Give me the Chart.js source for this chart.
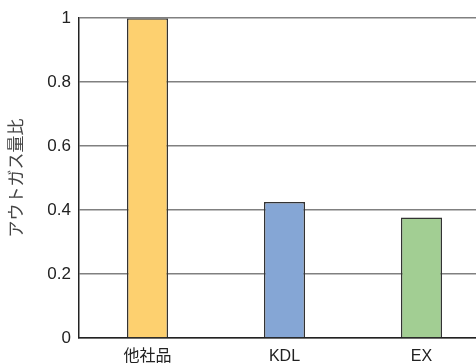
<!DOCTYPE html>
<html>
<head>
<meta charset="utf-8">
<script src="https://cdn.jsdelivr.net/npm/chart.js@4/dist/chart.umd.min.js"></script>
<style>
  html, body { margin: 0; padding: 0; background: #fff; overflow: hidden; }
  #wrap { width: 500px; height: 363px; }
</style>
</head>
<body>
<div id="wrap"><canvas id="chart" width="500" height="363"></canvas></div>
<script>
const categories = ["他社品", "KDL", "EX"];
const outgasRatio = [1.0, 0.425, 0.377];
const barColors = ["#fdd06f", "#85a6d5", "#a2ce93"];
const yTicks = [0, 0.2, 0.4, 0.6, 0.8, 1];
const yTitle = "アウトガス量比";

const FONT = "'Liberation Sans', 'Noto Sans CJK JP', sans-serif";

new Chart(document.getElementById("chart"), {
    type: "bar",
    data: {
        labels: categories,
        datasets: [{
            data: outgasRatio,
            backgroundColor: barColors,
            borderColor: "#333",
            borderWidth: 1.5,
            barPercentage: 0.3,
            categoryPercentage: 1
        }]
    },
    options: {
        responsive: false,
        animation: false,
        layout: { padding: { top: 18, right: 10, left: 0, bottom: 0 } },
        plugins: { legend: { display: false }, tooltip: { enabled: false } },
        scales: {
            x: {
                grid: { display: false },
                border: { color: "#222", width: 1.5 },
                ticks: { color: "#222", font: { family: FONT, size: 16 }, padding: 1 },
                afterFit: s => { s.height = 25; }
            },
            y: {
                min: 0,
                max: 1,
                afterBuildTicks: s => { s.ticks = yTicks.map(v => ({ value: v })); },
                grid: { color: "#808080", lineWidth: 1.5, drawTicks: false },
                border: { color: "#222", width: 1.5 },
                ticks: {
                    color: "#222",
                    font: { family: FONT, size: 17 },
                    padding: 8,
                    callback: v => String(v)
                },
                title: {
                    display: true,
                    text: yTitle,
                    color: "#444",
                    font: { family: FONT, size: 17 },
                    padding: { top: 7, bottom: 0 }
                },
                afterFit: s => { s.width = 79; }
            }
        }
    }
});
</script>
</body>
</html>
